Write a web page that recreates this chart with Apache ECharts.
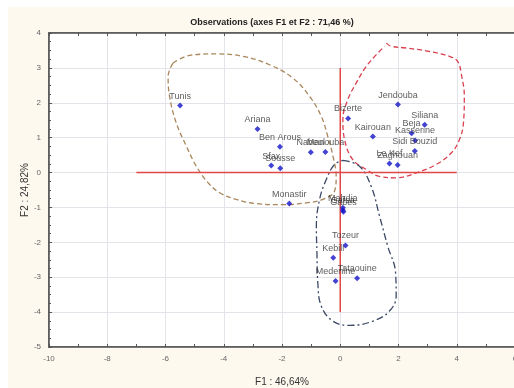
<!DOCTYPE html>
<html><head><meta charset="utf-8">
<script src="https://cdn.jsdelivr.net/npm/echarts@6/dist/echarts.min.js"></script>
<style>html,body{margin:0;padding:0;background:#fff}#c{width:514px;height:388px}</style>
</head><body><div id="c"></div>
<script>
const names = ["Tunis","Ariana","Ben Arous","Nabeul","Manouba","Sfax","Sousse","Monastir","Mahdia","Gafsa","Gabes","Tozeur","Kebili","Medenine","Tataouine","Bizerte","Jendouba","Kairouan","Siliana","Beja","Kasserine","Sidi Bouzid","Le Kef","Zaghouan"];
const f1 = [-5.50,-2.84,-2.07,-1.01,-0.51,-2.37,-2.06,-1.75,0.09,0.09,0.11,0.18,-0.24,-0.16,0.58,0.27,1.98,1.12,2.90,2.45,2.57,2.56,1.69,1.97];
const f2 = [1.92,1.25,0.74,0.58,0.59,0.20,0.12,-0.89,-1.01,-1.08,-1.12,-2.09,-2.44,-3.11,-3.03,1.55,1.95,1.03,1.37,1.13,0.92,0.62,0.26,0.22];

// hand-drawn group outlines (data coordinates)
const brownOutline = [[-5.74,3.14],[-5.17,3.36],[-4.25,3.40],[-3.34,3.33],[-2.43,3.09],[-1.63,2.71],[-1.05,2.18],[-0.65,1.61],[-0.43,1.04],[-0.25,0.47],[-0.14,-0.11],[-0.20,-0.54],[-0.60,-0.77],[-1.17,-0.87],[-1.97,-0.92],[-2.88,-0.89],[-3.57,-0.77],[-4.14,-0.58],[-4.54,-0.29],[-4.94,0.18],[-5.28,0.75],[-5.63,1.42],[-5.86,2.18],[-5.91,2.76],[-5.74,3.14]];
const redOutline = [[1.58,3.71],[1.75,3.62],[2.26,3.57],[3.06,3.47],[3.75,3.33],[4.03,3.19],[4.15,2.85],[4.26,2.18],[4.23,1.42],[4.09,0.94],[3.81,0.56],[3.29,0.23],[2.61,-0.01],[1.92,-0.15],[1.35,-0.11],[0.89,0.09],[0.43,0.37],[0.15,0.94],[0.09,1.52],[0.26,2.09],[0.55,2.57],[0.89,3.04],[1.24,3.38],[1.52,3.62]];
const blueOutline = [[0.09,0.35],[0.66,0.18],[1.06,-0.39],[1.35,-1.25],[1.63,-2.11],[1.90,-2.87],[1.92,-3.54],[1.69,-3.97],[1.12,-4.26],[0.32,-4.38],[-0.25,-4.26],[-0.65,-3.83],[-0.77,-3.16],[-0.80,-2.30],[-0.82,-1.54],[-0.71,-0.77],[-0.48,-0.20],[-0.20,0.23],[0.09,0.35]];
const crossH = [[-7,0],[4,0]];
const crossV = [[0,3],[0,-4]];

const pts = names.map((n,i)=>({name:n, value:[f1[i], f2[i]]}));
const chart = echarts.init(document.getElementById('c'), null, {renderer:'canvas'});
const axisCommon = {
  axisLine:{show:true, onZero:false, lineStyle:{color:'#555', width:1.5}},
  axisTick:{show:true, inside:true, length:3, lineStyle:{color:'#555'}},
  splitLine:{show:true, lineStyle:{color:'#e3e3ea', width:1}},
  axisLabel:{color:'#666', fontSize:8, fontFamily:'Liberation Sans, Arial'}
};
chart.setOption({
  backgroundColor:'#ffffff',
  graphic:[{type:'rect', z:-10, shape:{x:8,y:7,width:520,height:400}, style:{fill:'#fdf9ef'}}],
  title:{text:'Observations (axes F1 et F2 : 71,46 %)', left:267, top:13, textAlign:'center',
    textStyle:{fontSize:9, fontWeight:'bold', color:'#222', fontFamily:'Liberation Sans, Arial'}},
  grid:{left:49, top:33, width:466, height:314, outerBoundsMode:'none', containLabel:false,
    show:true, backgroundColor:'#fff', borderColor:'#555', borderWidth:1.5},
  xAxis:[
    Object.assign({type:'value', min:-10, max:6, interval:2, position:'bottom',
      name:'F1 : 46,64%', nameLocation:'middle', nameGap:30, nameMoveOverlap:false,
      nameTextStyle:{fontSize:10, color:'#333', fontFamily:'Liberation Sans, Arial'},
      minorTick:{show:true, splitNumber:2, length:3, lineStyle:{color:'#555'}}}, axisCommon),
    {type:'value', min:-10, max:6, interval:2, position:'top',
      axisLine:{show:true, onZero:false, lineStyle:{color:'#555', width:1.5}},
      axisTick:{show:true, inside:true, length:3, lineStyle:{color:'#555'}},
      minorTick:{show:true, splitNumber:2, length:3, lineStyle:{color:'#555'}},
      axisLabel:{show:false}, splitLine:{show:false}}
  ],
  yAxis:Object.assign({type:'value', min:-5, max:4, interval:1,
    name:'F2 : 24,82%', nameLocation:'middle', nameGap:19, nameRotate:90, nameMoveOverlap:false,
    nameTextStyle:{fontSize:10, color:'#333', fontFamily:'Liberation Sans, Arial'},
    minorTick:{show:true, splitNumber:4, length:2, lineStyle:{color:'#555'}}}, axisCommon),
  series:[
    {type:'line', data:brownOutline, smooth:0.4, symbol:'none', silent:true, z:2,
      lineStyle:{color:'#a8865a', width:1.3, type:[5,3]}},
    {type:'line', data:redOutline, smooth:0.4, symbol:'none', silent:true, z:2,
      lineStyle:{color:'#d8404e', width:1.3, type:[5,3]}},
    {type:'line', data:blueOutline, smooth:0.4, symbol:'none', silent:true, z:2,
      lineStyle:{color:'#3a4866', width:1.3, type:[7,3,2,3]}},
    {type:'line', data:crossH, symbol:'none', silent:true, z:3, lineStyle:{color:'#e04848', width:1.5}},
    {type:'line', data:crossV, symbol:'none', silent:true, z:3, lineStyle:{color:'#e04848', width:1.5}},
    {type:'scatter', data:pts, symbol:'diamond', symbolSize:6, z:5,
      itemStyle:{color:'#1414c8'},
      label:{show:true, position:'top', distance:2, formatter:'{b}', fontSize:9, color:'#333',
        fontFamily:'Liberation Sans, Arial'}}
  ]
});
</script></body></html>
